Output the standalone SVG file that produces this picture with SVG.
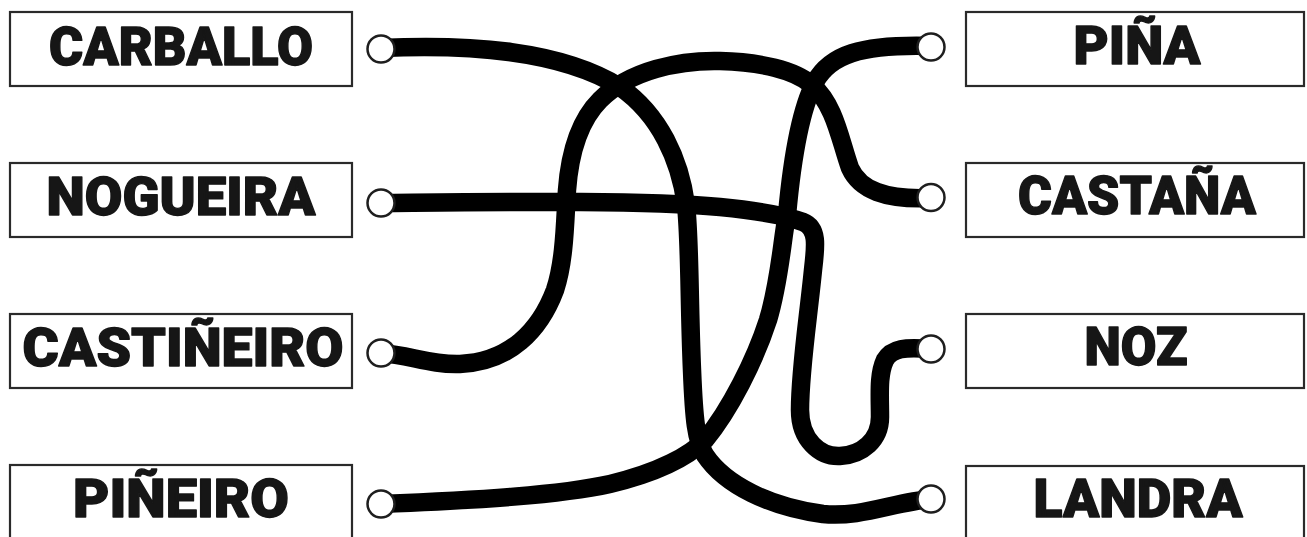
<svg xmlns="http://www.w3.org/2000/svg" width="1307" height="537" viewBox="0 0 1307 537">
<style>
.box{fill:#fff;stroke:#2a2a2a;stroke-width:2.2}
.lbl{font-family:Roboto,"Liberation Sans",sans-serif;font-weight:900;font-size:53px;fill:#161616;stroke:#161616;stroke-width:1.4;stroke-linejoin:round;text-anchor:middle}
.wire{fill:none;stroke:#000;stroke-width:18.5;stroke-linecap:round;stroke-linejoin:round}
.dot{fill:#fff;stroke:#1e1e1e;stroke-width:2.5}
</style>
<rect width="1307" height="537" fill="#fff"/>
<g id="connectors">
<path class="wire" d="M381,48 C470,44 560,50 620,87 C660,115 680,160 686,205 C690,240 689,300 692,370 C694,420 696,440 705,455 C725,485 770,507 823,514 C860,518 895,502 931,499"/>
<path class="wire" d="M381,203 C500,202 640,200 720,207 C760,211 790,217 803,222 C818,228 816,245 813,270 C808,320 800,370 800,410 C800,440 820,457 840,456 C862,455 880,440 880,417 C880,395 878,375 885,360 C892,348 905,347 931,349"/>
<path class="wire" d="M381,353 C410,355 430,365 460,364 C510,362 540,330 555,290 C565,260 565,220 567,190 C570,150 580,120 600,100 C630,70 680,60 720,61 C760,62 795,70 812,85 C835,105 840,140 850,168 C860,190 885,200 931,198"/>
<path class="wire" d="M381,504 C480,500 560,495 610,484 C660,472 690,455 705,440 C730,410 755,360 768,320 C780,280 782,240 787,215 C792,160 800,110 815,82 C830,55 860,44 931,46"/>
</g>
<g id="n-carballo"><rect class="box" x="10" y="12" width="342" height="74"/><text class="lbl" x="181" y="65" textLength="264" lengthAdjust="spacingAndGlyphs">CARBALLO</text><circle class="dot" cx="381" cy="49" r="13.5"/></g>
<g id="n-nogueira"><rect class="box" x="10" y="163" width="342" height="74"/><text class="lbl" x="181" y="215" textLength="269" lengthAdjust="spacingAndGlyphs">NOGUEIRA</text><circle class="dot" cx="381" cy="203" r="13.5"/></g>
<g id="n-castineiro"><rect class="box" x="10" y="314" width="342" height="74"/><text class="lbl" x="183" y="366" textLength="321" lengthAdjust="spacingAndGlyphs">CASTIÑEIRO</text><circle class="dot" cx="381" cy="353" r="13.5"/></g>
<g id="n-pineiro"><rect class="box" x="10" y="465" width="342" height="80"/><text class="lbl" x="181" y="517" textLength="216" lengthAdjust="spacingAndGlyphs">PIÑEIRO</text><circle class="dot" cx="381" cy="504" r="13.5"/></g>
<g id="n-pina"><rect class="box" x="966" y="12" width="338" height="74"/><text class="lbl" x="1137" y="64" textLength="127" lengthAdjust="spacingAndGlyphs">PIÑA</text><circle class="dot" cx="931" cy="47" r="13.5"/></g>
<g id="n-castana"><rect class="box" x="966" y="163" width="338" height="74"/><text class="lbl" x="1137" y="214" textLength="238" lengthAdjust="spacingAndGlyphs">CASTAÑA</text><circle class="dot" cx="931" cy="197.5" r="13.5"/></g>
<g id="n-noz"><rect class="box" x="966" y="314" width="338" height="74"/><text class="lbl" x="1136" y="365" textLength="103" lengthAdjust="spacingAndGlyphs">NOZ</text><circle class="dot" cx="931" cy="349" r="13.5"/></g>
<g id="n-landra"><rect class="box" x="966" y="466" width="338" height="80"/><text class="lbl" x="1138" y="517" textLength="209" lengthAdjust="spacingAndGlyphs">LANDRA</text><circle class="dot" cx="931" cy="499" r="13.5"/></g>
</svg>
